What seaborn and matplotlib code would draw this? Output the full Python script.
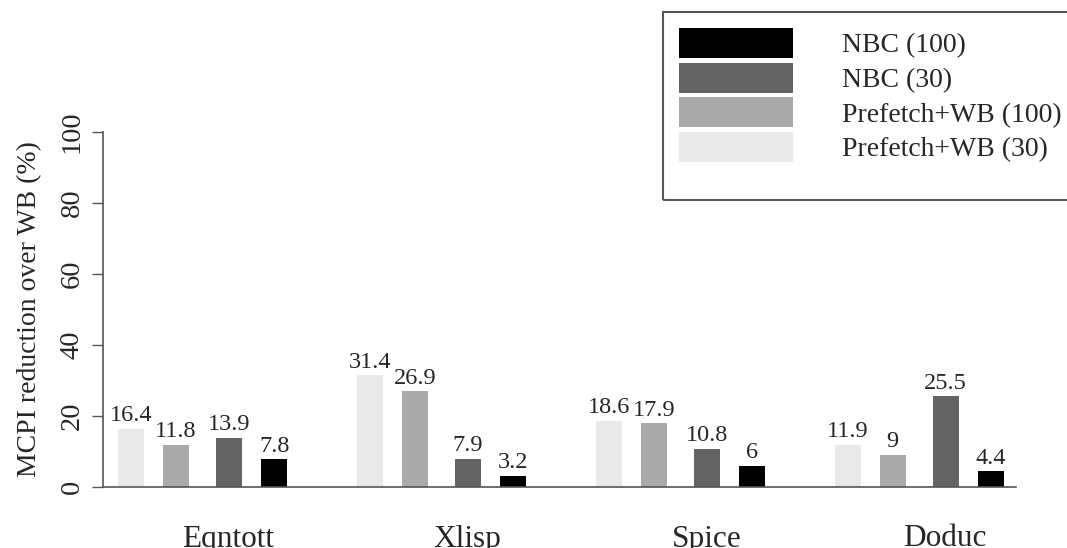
import matplotlib
matplotlib.use("Agg")
import matplotlib.pyplot as plt
from matplotlib.patches import Patch, Rectangle
import numpy as np
import pandas as pd
import seaborn as sns

# Benchmarks and measured MCPI reductions (%) for each configuration
benchmarks = ["Eqntott", "Xlisp", "Spice", "Doduc"]
series = ["Prefetch+WB (30)", "Prefetch+WB (100)", "NBC (30)", "NBC (100)"]
pf_wb_30 = [16.4, 31.4, 18.6, 11.9]
pf_wb_100 = [11.8, 26.9, 17.9, 9]
nbc_30 = [13.9, 7.9, 10.8, 25.5]
nbc_100 = [7.8, 3.2, 6, 4.4]
y_ticks = [0, 20, 40, 60, 80, 100]

colors = {
    "Prefetch+WB (30)": "#e9e9e9",
    "Prefetch+WB (100)": "#aaaaaa",
    "NBC (30)": "#646464",
    "NBC (100)": "#000000",
}

# bar slots inside one benchmark group, and spacing between groups
slot_offsets = [0.0, 1.0, 2.18, 3.18]
group_step = 5.31
label_offset = 2.17

values = [pf_wb_30, pf_wb_100, nbc_30, nbc_100]
rows = []
for gi, bench in enumerate(benchmarks):
    for si, name in enumerate(series):
        rows.append({
            "pos": gi * group_step + slot_offsets[si],
            "value": values[si][gi],
            "config": name,
            "bench": bench,
        })
df = pd.DataFrame(rows)

sns.set_style("ticks")
plt.rcParams["font.family"] = ["Liberation Serif", "DejaVu Serif"]

fig = plt.figure(figsize=(10.67, 5.48), dpi=100)
ax = fig.add_axes([103 / 1067, 1 - 487 / 548, (1016 - 103) / 1067, (487 - 131.7) / 548])

sns.barplot(data=df, x="pos", y="value", hue="config", hue_order=series,
            palette=colors, native_scale=True, dodge=False, width=0.578,
            linewidth=0, legend=False, ax=ax)

for cont in ax.containers:
    ax.bar_label(cont, fmt="%g", padding=2, fontsize=17.5)

ax.set_xlim(-0.622, 19.67)
ax.set_ylim(0, 100)
ax.set_yticks(y_ticks)
ax.set_yticklabels([str(t) for t in y_ticks], rotation=90, va="center", fontsize=20.5)
ax.tick_params(axis="y", length=8, width=1, color="#555555", pad=5)

ax.set_xticks([gi * group_step + label_offset for gi in range(len(benchmarks))])
ax.set_xticklabels(benchmarks, fontsize=22.5)
ax.tick_params(axis="x", length=0, pad=27)

ax.set_xlabel("")
ax.set_ylabel("MCPI reduction over WB (%)", fontsize=20, labelpad=13)

for side in ["top", "right"]:
    ax.spines[side].set_visible(False)
for side in ["left", "bottom"]:
    ax.spines[side].set_color("#555555")
    ax.spines[side].set_linewidth(1.2)

# legend entries, listed from darkest to lightest
handles = [Patch(facecolor=colors[s], edgecolor="none", label=s) for s in reversed(series)]
leg = fig.legend(handles=handles, loc="upper left",
                 bbox_to_anchor=(679 / 1067, 1 - 28 / 548),
                 frameon=False, fontsize=20, borderpad=0, borderaxespad=0,
                 handlelength=4.1, handleheight=1.28, handletextpad=1.75,
                 labelspacing=0.16)

fig.patches.append(Rectangle((663 / 1067, 1 - 200 / 548), 0.5, 188 / 548,
                             transform=fig.transFigure, fill=False,
                             edgecolor="#555555", linewidth=1.5, zorder=5))

fig.savefig("out.png", dpi=100)
